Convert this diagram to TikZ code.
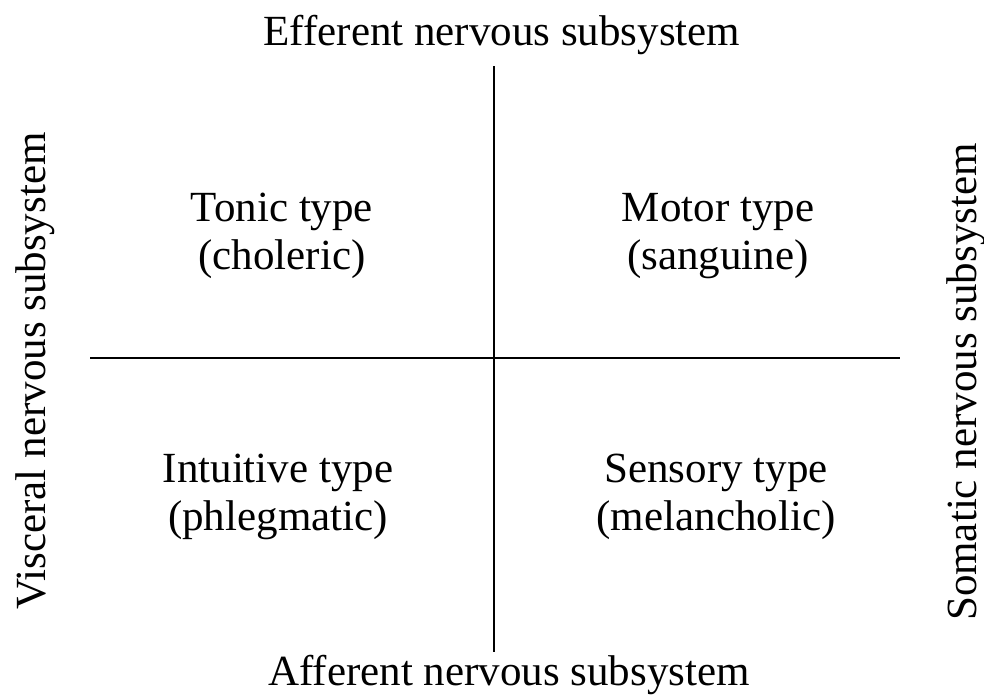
\documentclass[tikz,border=0pt]{standalone}
\usepackage{fontspec}
\setmainfont{Liberation Serif}
\begin{document}
\begin{tikzpicture}[x=1pt,y=-1pt,
  lbl/.style={font=\fontsize{43}{48}\selectfont, inner sep=0pt, align=center},
  side/.style={lbl, anchor=base},
  axis/.style={line width=1.4pt}]
\useasboundingbox[fill=white] (0,0) rectangle (984,696);
\coordinate (vt) at (494,66);
\coordinate (vb) at (494,652);
\coordinate (hl) at (90,358);
\coordinate (hr) at (900,358);
\draw[axis] (vt) -- (vb);
\draw[axis] (hl) -- (hr);
\node[side] (top) at (502,45) {Efferent nervous subsystem};
\node[side] (bot) at (509,685) {Afferent nervous subsystem};
\node[side, rotate=90] (left) at (45,371) {Visceral nervous subsystem};
\node[side, rotate=90] (right) at (976,382) {Somatic nervous subsystem};
\node[lbl] (q1) at (282,236) {Tonic type\\(choleric)};
\node[lbl] (q2) at (718,236) {Motor type\\(sanguine)};
\node[lbl] (q3) at (278,497) {Intuitive type\\(phlegmatic)};
\node[lbl] (q4) at (716,497) {Sensory type\\(melancholic)};
\end{tikzpicture}
\end{document}
